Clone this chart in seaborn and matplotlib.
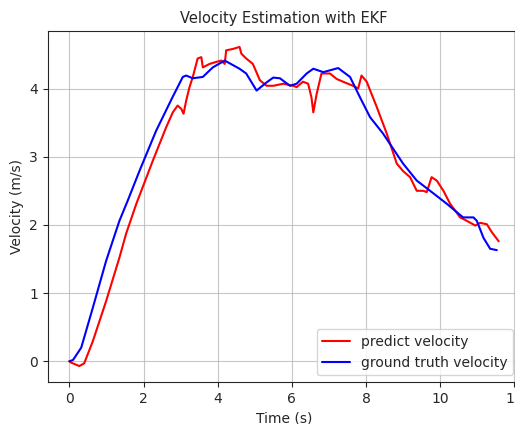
import matplotlib
matplotlib.use("Agg")
import matplotlib.pyplot as plt
import numpy as np
import pandas as pd
import seaborn as sns

# ground truth velocity
gt_t = [0.0, 0.1, 0.32, 0.63, 0.99, 1.35, 1.57, 1.89, 2.34, 2.78, 3.06, 3.15, 3.33, 3.6,
        3.87, 4.19, 4.59, 4.77, 5.05, 5.32, 5.5, 5.68, 5.95, 6.13, 6.4, 6.58, 6.85, 7.25,
        7.57, 7.84, 8.11, 8.46, 8.73, 9.0, 9.37, 9.73, 10.18, 10.62, 10.9, 10.99, 11.17,
        11.35, 11.53]
gt_v = [0.0, 0.02, 0.2, 0.78, 1.47, 2.06, 2.35, 2.79, 3.38, 3.87, 4.17, 4.19, 4.15, 4.17,
        4.31, 4.41, 4.29, 4.22, 3.97, 4.09, 4.16, 4.15, 4.04, 4.07, 4.22, 4.29, 4.24, 4.3,
        4.17, 3.87, 3.58, 3.34, 3.12, 2.9, 2.65, 2.5, 2.31, 2.11, 2.11, 2.06, 1.81,
        1.65, 1.63]

# EKF predicted velocity
pr_t = [0.0, 0.05, 0.27, 0.4, 0.63, 0.99, 1.35, 1.53, 1.8, 2.25, 2.61, 2.79, 2.92, 3.02,
        3.08, 3.15, 3.24, 3.33, 3.46, 3.56, 3.6, 3.78, 3.96, 4.1, 4.19, 4.23, 4.41, 4.59,
        4.64, 4.77, 4.95, 5.14, 5.32, 5.5, 5.77, 6.04, 6.13, 6.3, 6.44, 6.53, 6.58, 6.67,
        6.8, 7.03, 7.21, 7.38, 7.65, 7.79, 7.88, 8.02, 8.29, 8.56, 8.83, 9.0, 9.19, 9.37,
        9.55, 9.64, 9.77, 9.91, 10.09, 10.27, 10.54, 10.72, 10.95, 11.08, 11.26, 11.4, 11.58]
pr_v = [0.0, -0.02, -0.07, -0.03, 0.29, 0.88, 1.52, 1.87, 2.3, 2.94, 3.43, 3.65, 3.75, 3.7,
        3.63, 3.82, 4.02, 4.17, 4.44, 4.46, 4.31, 4.36, 4.39, 4.41, 4.36, 4.56, 4.58, 4.61,
        4.51, 4.44, 4.36, 4.12, 4.04, 4.04, 4.07, 4.04, 4.02, 4.1, 4.07, 3.87, 3.65, 3.92,
        4.22, 4.22, 4.14, 4.1, 4.04, 4.0, 4.19, 4.1, 3.73, 3.34, 2.9, 2.79, 2.7, 2.5,
        2.5, 2.48, 2.7, 2.65, 2.5, 2.31, 2.11, 2.06, 1.99, 2.03, 2.01, 1.89, 1.76]

sns.set_style("ticks")
plt.rcParams['font.family'] = ['DejaVu Sans']

fig = plt.figure(figsize=(5.15, 4.24), dpi=100)
ax = fig.add_axes([0.093, 0.099, 0.917, 0.828])

pred = pd.DataFrame({'t': pr_t, 'v': pr_v})
gt = pd.DataFrame({'t': gt_t, 'v': gt_v})

sns.lineplot(data=pred, x='t', y='v', color='red', lw=1.5, sort=False,
             label='predict velocity', ax=ax)
sns.lineplot(data=gt, x='t', y='v', color='blue', lw=1.5, sort=False,
             label='ground truth velocity', ax=ax)

ax.set_xticks([0, 2, 4, 6, 8, 10, 12])
ax.set_yticks([0, 1, 2, 3, 4])
ax.grid(True, color='#b0b0b0', lw=0.8, alpha=0.7)
ax.set_xlabel('Time (s)')
ax.set_ylabel('Velocity (m/s)')
ax.set_title('Velocity Estimation with EKF', fontsize=10.5)
ax.legend(loc='lower right')

fig.savefig('out.png', dpi=100)
